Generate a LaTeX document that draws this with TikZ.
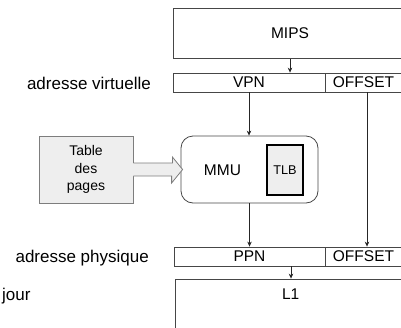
\documentclass[tikz,border=0pt]{standalone}
\usepackage{fontspec}
\setmainfont{Liberation Sans}
\usetikzlibrary{arrows.meta,calc}
\definecolor{edge}{RGB}{70,70,70}
\definecolor{softedge}{RGB}{125,125,125}
\definecolor{lightfill}{RGB}{238,238,238}
\begin{document}
\begin{tikzpicture}[x=1pt,y=-1pt,
  box/.style={draw=edge, line width=0.8pt, inner sep=0pt, font=\fontsize{15.5}{18}\selectfont},
  txt/.style={inner sep=0pt, font=\fontsize{15.5}{18}\selectfont},
  lbl/.style={inner sep=0pt, font=\fontsize{17}{20}\selectfont},
  arr/.style={draw=black!85, line width=0.7pt, -{Stealth[length=5pt,width=4.5pt]}},
  wire/.style={draw=edge, line width=0.8pt},
  blk/.style={draw=softedge, line width=0.8pt},
]
\clip (0,0) rectangle (401,327);

% boxes
\node[box, minimum width=234, minimum height=50.5] (mips) at (290,33.25) {MIPS};
\node[box, minimum width=152, minimum height=19] (vpn) at (249,82.5) {VPN};
\node[box, minimum width=77, minimum height=19] (voff) at (363.5,82.5) {OFFSET};

\node[box, draw=softedge, fill=lightfill, minimum width=94, minimum height=67, align=center,
      font=\fontsize{14}{17.5}\selectfont] (table) at (86,169.5) {Table\\des\\pages};
\node[box, rounded corners=12pt, minimum width=137, minimum height=67] (mmu) at (249.5,169.5) {};
\node[txt] (mmutxt) at (222.5,170) {MMU};
\node[box, draw=black, line width=1.3pt, fill=lightfill, minimum width=36, minimum height=50,
      font=\fontsize{12.7}{15}\selectfont] (tlb) at (285,170) {TLB};

\node[box, minimum width=151, minimum height=19] (ppn) at (249.5,256.5) {PPN};
\node[box, minimum width=77, minimum height=19] (poff) at (363.5,256.5) {OFFSET};
\node[box, minimum width=232, minimum height=70] (l1) at (291,314) {};
\node[txt] (l1txt) at (290.7,294) {L1};

% labels
\node[lbl, anchor=base east] (lv) at (151,89) {adresse virtuelle};
\node[lbl, anchor=base east] (lp) at (149,262) {adresse physique};
\node[lbl, anchor=base west] (lj) at (2,300) {jour};

% block arrow
\fill[lightfill] ($(table.east)+(-0.6,-6.5)$) -- ++(39.6,0) -- ++(0,-6) -- ($(mmu.west)+(2,0)$)
   -- ++(-11,13.5) -- ++(0,-7) -- ($(table.east)+(-0.6,6.5)$) -- cycle;
\draw[blk] ($(table.east)+(0,-6.5)$) -- ++(39,0) -- ++(0,-6) -- ($(mmu.west)+(2,0)$)
   -- ++(-11,13.5) -- ++(0,-7) -- ($(table.east)+(0,6.5)$);

% connectors
\draw[arr] (mips.south) -- (mips.south |- vpn.north);
\draw[arr] (vpn.south) -- (vpn.south |- mmu.north);
\draw[arr] (mmu.south) -- (mmu.south |- ppn.north);
\draw[arr] ($(voff.south)+(3.5,0)$) -- ($(poff.north)+(3.5,0)$);
\draw[arr] (ppn.south -| l1.north) -- (l1.north);
\end{tikzpicture}
\end{document}
